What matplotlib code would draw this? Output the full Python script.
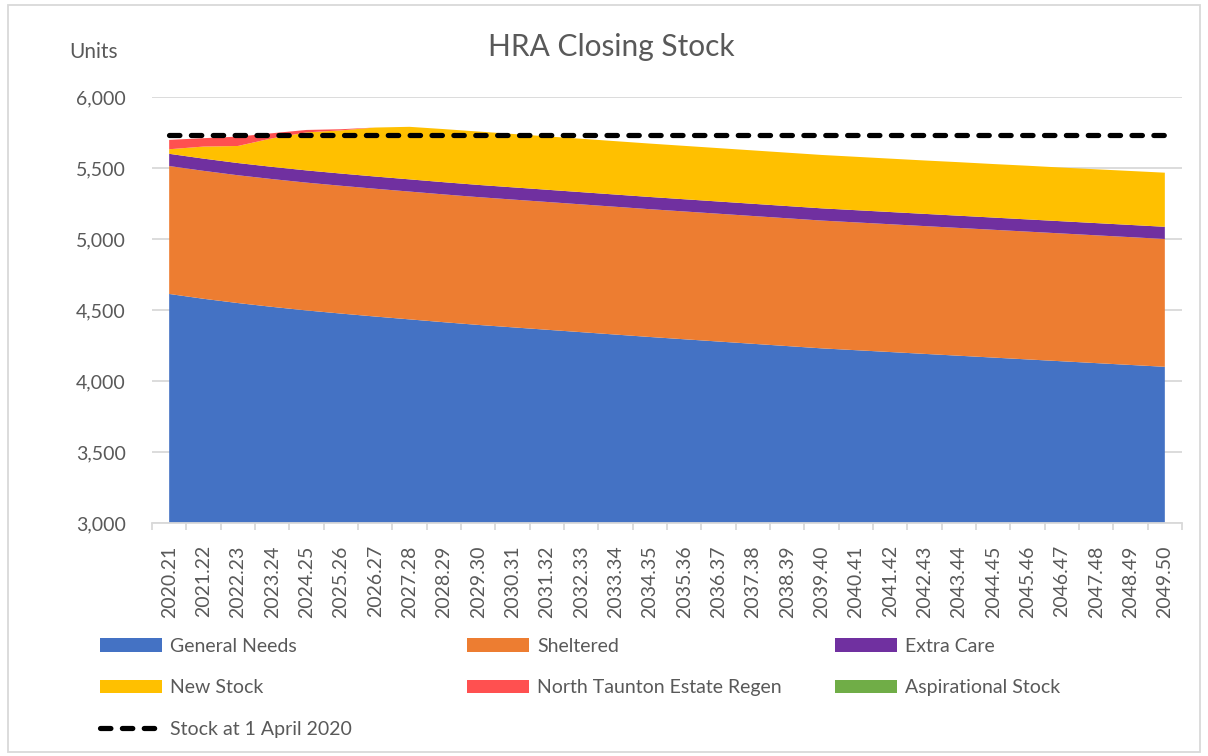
import numpy as np
import matplotlib
matplotlib.use("Agg")
import matplotlib.pyplot as plt
from matplotlib.patches import Rectangle

plt.rcParams['font.family'] = ['Lato', 'DejaVu Sans']

# ---- data ----
years = ["2020.21", "2021.22", "2022.23", "2023.24", "2024.25", "2025.26",
         "2026.27", "2027.28", "2028.29", "2029.30", "2030.31", "2031.32",
         "2032.33", "2033.34", "2034.35", "2035.36", "2036.37", "2037.38",
         "2038.39", "2039.40", "2040.41", "2041.42", "2042.43", "2043.44",
         "2044.45", "2045.46", "2046.47", "2047.48", "2048.49", "2049.50"]

general_needs = [4613, 4579, 4549, 4522, 4497, 4475, 4454, 4434, 4414, 4395,
                 4378, 4361, 4344, 4327, 4310, 4294, 4278, 4262, 4246, 4230,
                 4217, 4204, 4191, 4178, 4165, 4152, 4139, 4126, 4113, 4100]
sheltered = [901, 901, 900, 900, 900, 900, 900, 900, 900, 900,
             900, 900, 900, 900, 900, 900, 900, 900, 900, 900,
             900, 900, 900, 900, 900, 900, 900, 900, 900, 900]
extra_care = [86, 86, 86, 86, 86, 86, 86, 86, 86, 86,
              86, 86, 86, 86, 86, 86, 86, 86, 86, 86,
              86, 86, 86, 86, 86, 86, 86, 86, 86, 86]
new_stock = [32, 85, 120, 201, 268, 304, 345, 370, 374, 376,
             376, 376, 376, 376, 376, 376, 376, 376, 376, 376,
             376, 376, 376, 377, 377, 378, 378, 379, 380, 381]
north_taunton = [66, 59, 66, 36, 17, 8, 0, 0, 0, 0,
                 0, 0, 0, 0, 0, 0, 0, 0, 0, 0,
                 0, 0, 0, 0, 0, 0, 0, 0, 0, 0]
aspirational = [0] * 30
stock_2020 = [5730] * 30

names = ["General Needs", "Sheltered", "Extra Care", "New Stock",
         "North Taunton Estate Regen", "Aspirational Stock"]
colors = ["#4472C4", "#ED7D31", "#7030A0", "#FFC000", "#FF5050", "#70AD47"]

txt = "#595959"
grid_c = "#D9D9D9"
fs = 14

fig = plt.figure(figsize=(12.08, 7.56), dpi=100)
ax = fig.add_axes([152/1208, 1-523/756, (1182-152)/1208, (523-97)/756])

x = np.arange(len(years))
polys = ax.stackplot(x, general_needs, sheltered, extra_care, new_stock,
                     north_taunton, aspirational, colors=colors, labels=names,
                     linewidth=0)
line, = ax.plot(x, stock_2020, color="black", lw=3.75, dashes=(2.0, 2.2),
                dash_capstyle="round", label="Stock at 1 April 2020", zorder=5)

ax.set_xlim(-0.5, len(years) - 0.5)
ax.set_ylim(3000, 6000)
ax.set_yticks(np.arange(3000, 6001, 500))
ax.yaxis.set_major_formatter(matplotlib.ticker.FuncFormatter(lambda v, p: f"{int(v):,}"))
ax.set_xticks(x)
ax.set_xticklabels(years, rotation=90)
ax.set_xticks(np.arange(-0.5, len(years)), minor=True)
ax.tick_params(axis="x", which="major", length=0, pad=16, labelsize=fs, labelcolor=txt)
ax.tick_params(axis="x", which="minor", length=5, color=grid_c, width=1.3)
ax.tick_params(axis="y", length=0, pad=19, labelsize=fs, labelcolor=txt)
ax.grid(axis="y", color=grid_c, lw=1.3)
ax.set_axisbelow(True)
for s in ["top", "right", "left"]:
    ax.spines[s].set_visible(False)
ax.spines["bottom"].set_color(grid_c)
ax.spines["bottom"].set_linewidth(1.3)

fig.text(611/1208, 1-47/756, "HRA Closing Stock", ha="center", va="center",
         fontsize=21.5, color=txt)
fig.text(69/1208, 1-52/756, "Units", ha="left", va="center", fontsize=15, color=txt)

# legend, laid out in three columns like the original
cols = [([polys[0], polys[3], line], [names[0], names[3], "Stock at 1 April 2020"], 100),
        ([polys[1], polys[4]], [names[1], names[4]], 467),
        ([polys[2], polys[5]], [names[2], names[5]], 835)]
for hs, ls, xpx in cols:
    fig.legend(hs, ls, loc="upper left", bbox_to_anchor=(xpx/1208, 1-638/756),
               frameon=False, fontsize=fs, labelcolor=txt, handlelength=3.2,
               handleheight=0.7, handletextpad=0.4, labelspacing=1.25,
               borderpad=0, borderaxespad=0)

fig.patches.append(Rectangle((8/1208, 4/756), 1192/1208, 747/756, transform=fig.transFigure,
                             fill=False, edgecolor=grid_c, lw=1.3))

fig.savefig("out.png", dpi=100)
